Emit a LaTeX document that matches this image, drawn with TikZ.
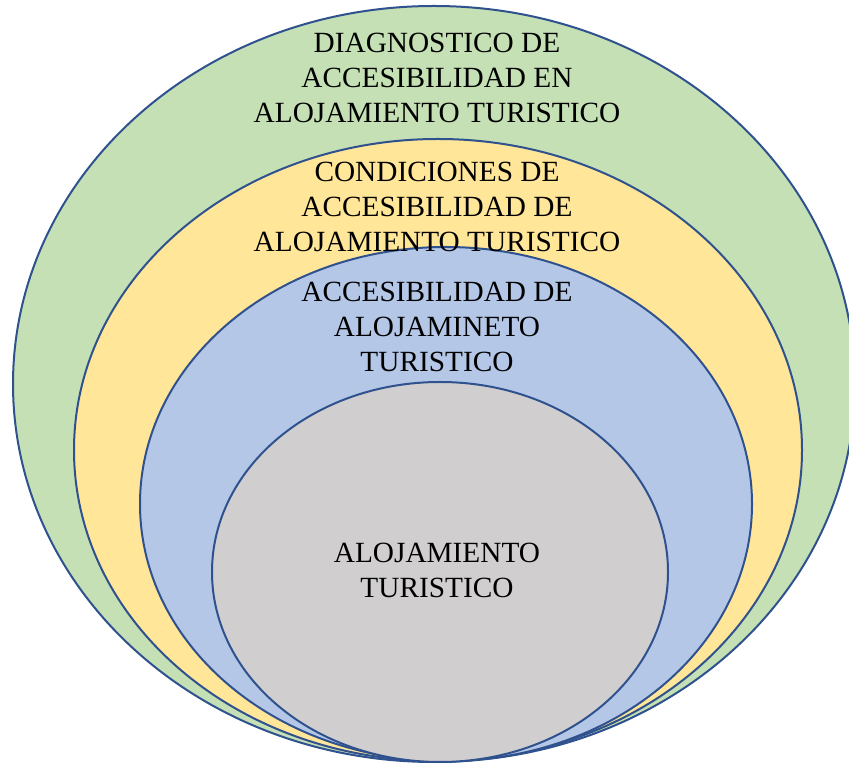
\documentclass[tikz,border=0pt]{standalone}
\usepackage{fontspec}
\setmainfont{Liberation Serif}
\usepackage{tikz}

\definecolor{verde}{HTML}{C5E0B4}
\definecolor{amarillo}{HTML}{FFE699}
\definecolor{azulclaro}{HTML}{B4C7E7}
\definecolor{gris}{HTML}{D0CECE}
\definecolor{borde}{HTML}{2F528F}

\begin{document}
\begin{tikzpicture}[x=1bp, y=1bp,
        capa/.style={draw=borde, line width=2bp},
        texto/.style={align=center, text=black, font=\fontsize{29.3bp}{35bp}\selectfont}]
        \useasboundingbox (0,0) rectangle (849,763);
        \clip (0,0) rectangle (849,763);
        % elipses anidadas, tocan abajo
        \draw[capa, fill=verde] (434,379) ellipse (421 and 378);
        \draw[capa, fill=amarillo] (438,313) ellipse (364 and 311);
        \draw[capa, fill=azulclaro] (446,259) ellipse (306 and 257);
        \draw[capa, fill=gris] (440,191) ellipse (228 and 190);
        % textos
        \node[texto] (diagnostico) at (437,685) {DIAGNOSTICO DE\\ACCESIBILIDAD EN\\ALOJAMIENTO TURISTICO};
        \node[texto] (condiciones) at (437,556) {CONDICIONES DE\\ACCESIBILIDAD DE\\ALOJAMIENTO TURISTICO};
        \node[texto] (accesibilidad) at (437,436) {ACCESIBILIDAD DE\\ALOJAMINETO\\TURISTICO};
        \node[texto] (alojamiento) at (437,193) {ALOJAMIENTO\\TURISTICO};
    \end{tikzpicture}
\end{document}
